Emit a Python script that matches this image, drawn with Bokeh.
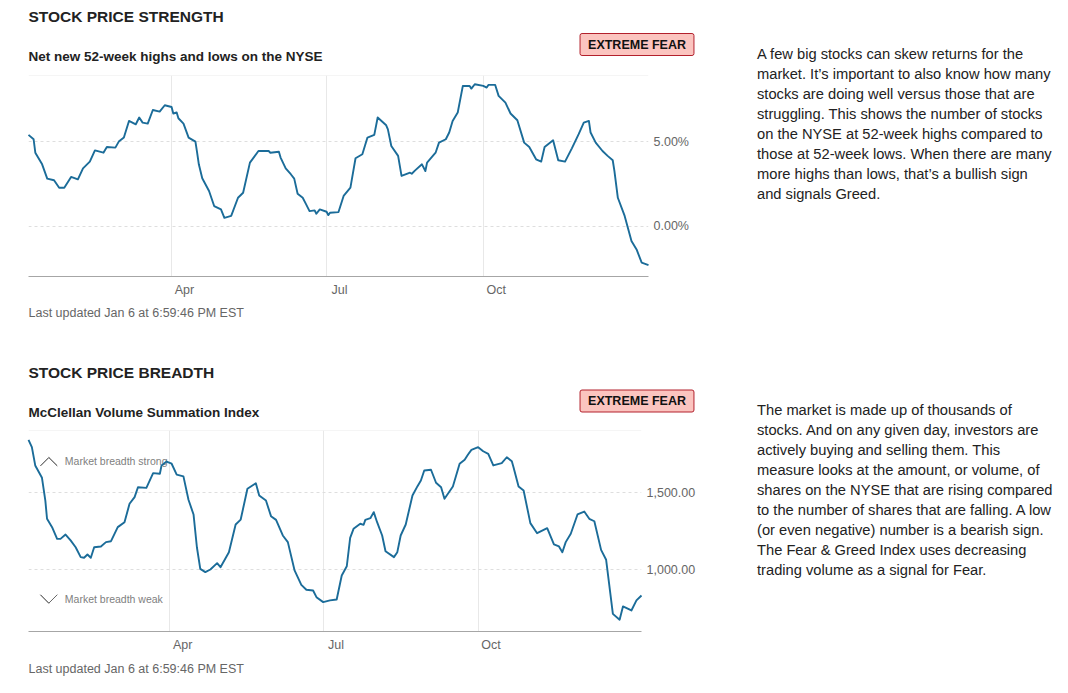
import pandas as pd
from bokeh.plotting import figure
from bokeh.layouts import column, row
from bokeh.models import (Range1d, FixedTicker, DatetimeTickFormatter, PrintfTickFormatter,
                          NumeralTickFormatter, Label, Span, PolyAnnotation)
from bokeh.embed import file_html
from bokeh.resources import INLINE

# ---------------- data ----------------
strength_dates = [
    "2024-01-08", "2024-01-11", "2024-01-12", "2024-01-16", "2024-01-19", "2024-01-23", "2024-01-26",
    "2024-01-29", "2024-02-02", "2024-02-06", "2024-02-09", "2024-02-13", "2024-02-16", "2024-02-21",
    "2024-02-23", "2024-02-28", "2024-03-01", "2024-03-04", "2024-03-07", "2024-03-11", "2024-03-13",
    "2024-03-15", "2024-03-18", "2024-03-21", "2024-03-25", "2024-03-28", "2024-04-01", "2024-04-02",
    "2024-04-04", "2024-04-05", "2024-04-08", "2024-04-11", "2024-04-15", "2024-04-16", "2024-04-17",
    "2024-04-19", "2024-04-23", "2024-04-26", "2024-04-30", "2024-05-02", "2024-05-06", "2024-05-10",
    "2024-05-13", "2024-05-17", "2024-05-22", "2024-05-28", "2024-05-29", "2024-06-03", "2024-06-04",
    "2024-06-07", "2024-06-10", "2024-06-12", "2024-06-14", "2024-06-17", "2024-06-19", "2024-06-21",
    "2024-06-24", "2024-06-25", "2024-06-27", "2024-07-01", "2024-07-02", "2024-07-03", "2024-07-08",
    "2024-07-11", "2024-07-15", "2024-07-18", "2024-07-22", "2024-07-25", "2024-07-29", "2024-07-31",
    "2024-08-05", "2024-08-06", "2024-08-08", "2024-08-12", "2024-08-14", "2024-08-19", "2024-08-20",
    "2024-08-22", "2024-08-26", "2024-08-28", "2024-08-29", "2024-09-03", "2024-09-05", "2024-09-09",
    "2024-09-11", "2024-09-13", "2024-09-16", "2024-09-19", "2024-09-23", "2024-09-24", "2024-09-26",
    "2024-10-01", "2024-10-03", "2024-10-04", "2024-10-08", "2024-10-10", "2024-10-14", "2024-10-17",
    "2024-10-21", "2024-10-25", "2024-10-28", "2024-11-01", "2024-11-04", "2024-11-06", "2024-11-11",
    "2024-11-14", "2024-11-18", "2024-11-22", "2024-11-26", "2024-11-29", "2024-12-02", "2024-12-03",
    "2024-12-06", "2024-12-10", "2024-12-13", "2024-12-16", "2024-12-17", "2024-12-19", "2024-12-23",
    "2024-12-27", "2024-12-30", "2025-01-02", "2025-01-06",
]
strength_values = [
    5.42, 5.16, 4.36, 3.67, 2.82, 2.72, 2.28,
    2.28, 2.92, 2.78, 3.43, 3.83, 4.50, 4.36,
    4.70, 4.66, 5.02, 5.26, 6.25, 6.05, 6.45,
    6.15, 6.09, 6.90, 6.80, 7.18, 7.08, 6.69,
    6.75, 6.41, 6.09, 5.26, 5.02, 4.36, 3.67,
    2.84, 2.08, 1.19, 0.99, 0.49, 0.60, 1.68,
    1.98, 3.77, 4.46, 4.46, 4.36, 4.42, 4.07,
    3.43, 3.08, 2.82, 1.92, 1.68, 1.29, 0.89,
    0.93, 0.73, 0.99, 0.85, 0.65, 0.79, 0.83,
    1.79, 2.28, 4.03, 4.27, 5.26, 5.42, 6.45,
    5.99, 5.75, 4.76, 4.17, 2.98, 3.17, 3.11,
    3.31, 3.67, 3.27, 3.77, 4.36, 4.96, 5.16,
    5.56, 6.25, 6.75, 8.33, 8.33, 8.17, 8.43,
    8.33, 8.23, 8.39, 8.39, 7.74, 7.34, 6.69,
    6.29, 4.96, 4.70, 3.97, 3.83, 4.70, 5.10,
    3.91, 3.83, 4.62, 5.46, 6.15, 6.25, 5.56,
    4.96, 4.46, 4.17, 3.91, 3.27, 1.68, 0.60,
    -0.89, -1.39, -2.18, -2.32,
]

breadth_dates = [
    "2024-01-08", "2024-01-10", "2024-01-12", "2024-01-16", "2024-01-18", "2024-01-19", "2024-01-22",
    "2024-01-25", "2024-01-27", "2024-01-30", "2024-02-02", "2024-02-05", "2024-02-08", "2024-02-10",
    "2024-02-12", "2024-02-14", "2024-02-16", "2024-02-20", "2024-02-23", "2024-02-26", "2024-03-01",
    "2024-03-05", "2024-03-08", "2024-03-11", "2024-03-13", "2024-03-18", "2024-03-22", "2024-03-26",
    "2024-03-27", "2024-03-30", "2024-04-02", "2024-04-05", "2024-04-09", "2024-04-12", "2024-04-15",
    "2024-04-17", "2024-04-19", "2024-04-22", "2024-04-25", "2024-04-29", "2024-05-01", "2024-05-06",
    "2024-05-10", "2024-05-13", "2024-05-17", "2024-05-22", "2024-05-24", "2024-05-28", "2024-05-31",
    "2024-06-03", "2024-06-07", "2024-06-10", "2024-06-14", "2024-06-18", "2024-06-21", "2024-06-25",
    "2024-06-27", "2024-07-01", "2024-07-05", "2024-07-09", "2024-07-12", "2024-07-15", "2024-07-17",
    "2024-07-19", "2024-07-23", "2024-07-25", "2024-07-26", "2024-07-29", "2024-07-31", "2024-08-02",
    "2024-08-05", "2024-08-07", "2024-08-12", "2024-08-14", "2024-08-16", "2024-08-19", "2024-08-23",
    "2024-08-26", "2024-08-28", "2024-08-30", "2024-09-03", "2024-09-06", "2024-09-09", "2024-09-11",
    "2024-09-16", "2024-09-20", "2024-09-23", "2024-09-25", "2024-09-27", "2024-10-01", "2024-10-04",
    "2024-10-07", "2024-10-10", "2024-10-15", "2024-10-18", "2024-10-21", "2024-10-22", "2024-10-25",
    "2024-10-28", "2024-11-01", "2024-11-05", "2024-11-11", "2024-11-15", "2024-11-18", "2024-11-20",
    "2024-11-22", "2024-11-25", "2024-11-29", "2024-12-03", "2024-12-06", "2024-12-09", "2024-12-13",
    "2024-12-16", "2024-12-20", "2024-12-24", "2024-12-26", "2024-12-31", "2025-01-03", "2025-01-06",
]
breadth_values = [
    1839, 1791, 1673, 1593, 1446, 1328, 1274,
    1198, 1198, 1226, 1188, 1144, 1080, 1076,
    1097, 1076, 1144, 1149, 1177, 1183, 1274,
    1306, 1425, 1468, 1532, 1528, 1623, 1619,
    1673, 1698, 1684, 1614, 1602, 1451, 1356,
    1144, 1004, 983, 1000, 1041, 1015, 1112,
    1291, 1323, 1522, 1558, 1479, 1446, 1345,
    1321, 1220, 1177, 994, 901, 869, 864,
    821, 789, 800, 806, 961, 1021, 1205,
    1263, 1296, 1289, 1321, 1332, 1371, 1306,
    1220, 1118, 1080, 1112, 1220, 1291, 1479,
    1539, 1576, 1640, 1645, 1561, 1532, 1457,
    1537, 1684, 1710, 1744, 1774, 1791, 1765,
    1748, 1673, 1688, 1726, 1700, 1662, 1537,
    1511, 1300, 1235, 1267, 1162, 1149, 1112,
    1177, 1231, 1356, 1375, 1328, 1312, 1127,
    1063, 713, 675, 761, 735, 800, 832,
]

date_start = "2024-01-08"
date_end = "2025-01-06"
month_ticks = ["2024-04-01", "2024-07-01", "2024-10-01"]

strength_title = "STOCK PRICE STRENGTH"
strength_subtitle = "Net new 52-week highs and lows on the NYSE"
strength_yticks = [0, 5]
strength_text = [
    "A few big stocks can skew returns for the",
    "market. It\u2019s important to also know how many",
    "stocks are doing well versus those that are",
    "struggling. This shows the number of stocks",
    "on the NYSE at 52-week highs compared to",
    "those at 52-week lows. When there are many",
    "more highs than lows, that\u2019s a bullish sign",
    "and signals Greed.",
]

breadth_title = "STOCK PRICE BREADTH"
breadth_subtitle = "McClellan Volume Summation Index"
breadth_yticks = [1000, 1500]
breadth_text = [
    "The market is made up of thousands of",
    "stocks. And on any given day, investors are",
    "actively buying and selling them. This",
    "measure looks at the amount, or volume, of",
    "shares on the NYSE that are rising compared",
    "to the number of shares that are falling. A low",
    "(or even negative) number is a bearish sign.",
    "The Fear & Greed Index uses decreasing",
    "trading volume as a signal for Fear.",
]

badge_text = "EXTREME FEAR"
updated_text = "Last updated Jan 6 at 6:59:46 PM EST"
strong_text = "Market breadth strong"
weak_text = "Market breadth weak"

# ---------------- style ----------------
FONT = "Liberation Sans"
LINE_COLOR = "#1b6c99"
DARK = "#222222"
LEFT_W = 740
RIGHT_W = 320
HEADER_H = 74
CHART_H = 229          # 1px top border + 201 frame + 27 axis
FRAME_LEFT = 28
DAY_MS = 86400000
LABEL_SHIFT_MS = 7.6 * DAY_MS


def ms(d):
    return pd.Timestamp(d).value // 10**6


def canvas(w, h):
    """A blank figure whose frame is the whole figure; data units = pixels (y downwards)."""
    c = figure(width=w, height=h, x_range=Range1d(0, w), y_range=Range1d(h, 0),
               x_axis_type=None, y_axis_type=None, output_backend="svg", toolbar_location=None,
               min_border=0, min_border_left=0, min_border_right=0, min_border_top=0,
               min_border_bottom=0, frame_align=False)
    c.outline_line_color = None
    c.grid.visible = False
    return c


def add_text(c, x, y, text, size, color=DARK, bold=False, align="left", baseline="alphabetic", **kw):
    c.add_layout(Label(x=x, y=y, text=text, text_font=FONT, text_font_size=size, text_color=color,
                       text_font_style="bold" if bold else "normal",
                       text_align=align, text_baseline=baseline, **kw))


def make_chart(frame_right, dates, values, y_start, y_end, yticks, yfmt):
    x = pd.to_datetime(dates)
    p = figure(width=LEFT_W, height=CHART_H, x_axis_type="datetime", y_axis_location="right",
               x_range=Range1d(pd.Timestamp(date_start), pd.Timestamp(date_end)),
               y_range=Range1d(y_start, y_end),
               output_backend="svg", toolbar_location=None, frame_align=False,
               min_border_left=FRAME_LEFT, min_border_right=LEFT_W - frame_right,
               min_border_top=1, min_border_bottom=CHART_H - 1 - 201)
    p.outline_line_color = None

    xa = p.xaxis[0]
    xa.ticker = FixedTicker(ticks=[ms(m) + LABEL_SHIFT_MS for m in month_ticks])
    xa.formatter = DatetimeTickFormatter(days="%b", months="%b", years="%b", hours="%b",
                                         minutes="%b", seconds="%b", milliseconds="%b",
                                         minsec="%b", hourmin="%b")
    xa.axis_line_color = "#a6a6a6"
    xa.major_tick_line_color = None
    xa.minor_tick_line_color = None
    xa.major_tick_out = 0
    xa.major_label_standoff = 6
    xa.major_label_text_font = FONT
    xa.major_label_text_font_size = "12.5px"
    xa.major_label_text_color = "#666666"

    ya = p.yaxis[0]
    ya.ticker = FixedTicker(ticks=yticks)
    ya.formatter = yfmt
    ya.axis_line_color = None
    ya.major_tick_line_color = None
    ya.minor_tick_line_color = None
    ya.major_tick_out = 0
    ya.major_label_standoff = 5
    ya.major_label_text_font = FONT
    ya.major_label_text_font_size = "12.5px"
    ya.major_label_text_color = "#666666"

    p.xgrid.ticker = FixedTicker(ticks=[ms(m) for m in month_ticks])
    p.xgrid.grid_line_color = "#e8e8e8"
    p.ygrid.grid_line_color = "#dedede"
    p.ygrid.grid_line_dash = "3 3"
    p.add_layout(Span(location=y_end, dimension="width", line_color="#ececec", line_width=1))

    r = p.line(x, values, line_color=LINE_COLOR, line_width=1.9, line_join="round")
    r.level = "overlay"
    return p


def make_section(height, chart, title, subtitle, para, title_y, sub_y, badge_y, para_y0, upd_y):
    header = canvas(LEFT_W, HEADER_H)
    add_text(header, 28, title_y, title, "15.5px", bold=True)
    add_text(header, 28, sub_y, subtitle, "13.5px", bold=True)
    add_text(header, 636.5, badge_y, badge_text, "12.5px", color="#111111", bold=True,
             align="center", baseline="middle",
             background_fill_color="#fbc4bf", border_line_color="#b3202c",
             border_line_width=1, border_radius=2,
             padding=dict(left=8, right=8, top=4, bottom=4))
    footer = canvas(LEFT_W, height - HEADER_H - CHART_H)
    add_text(footer, 28, upd_y, updated_text, "12.5px", color="#666666")
    side = canvas(RIGHT_W, height)
    for i, line in enumerate(para):
        add_text(side, 16.5, para_y0 + 20 * i, line, "14.7px")
    return row(column(header, chart, footer, spacing=0), side, spacing=0)


chart1 = make_chart(648, strength_dates, strength_values, -3.0, 8.95, strength_yticks,
                    PrintfTickFormatter(format="%.2f%%"))
chart2 = make_chart(641, breadth_dates, breadth_values, 599, 1899, breadth_yticks,
                    NumeralTickFormatter(format="0,0.00"))

# breadth hints inside the second chart frame (screen units from frame bottom-left)
for ys in ([165.7, 174.0, 165.7, 174.0], [36.7, 28.3, 36.7, 28.3]):
    chart2.add_layout(PolyAnnotation(xs=[12, 20.3, 28.7, 20.3], ys=ys,
                                     xs_units="screen", ys_units="screen",
                                     fill_alpha=0, line_color="#6a6a6a", line_alpha=1.0,
                                     line_width=1, line_join="round"))
chart2.add_layout(Label(x=36.3, y=165, x_units="screen", y_units="screen", text=strong_text,
                        text_font=FONT, text_font_size="10.5px", text_color="#808080"))
chart2.add_layout(Label(x=36.3, y=26.7, x_units="screen", y_units="screen", text=weak_text,
                        text_font=FONT, text_font_size="10.5px", text_color="#808080"))

sec1 = make_section(355, chart1, strength_title, strength_subtitle, strength_text,
                    title_y=15.5, sub_y=56, badge_y=44, para_y0=53, upd_y=312.5 - 303)
sec2 = make_section(334, chart2, breadth_title, breadth_subtitle, breadth_text,
                    title_y=16.5, sub_y=56.5, badge_y=45.5, para_y0=54.5, upd_y=313 - 303)

layout = column(sec1, sec2, spacing=0)
open("out.html", "w").write(file_html(layout, INLINE))
